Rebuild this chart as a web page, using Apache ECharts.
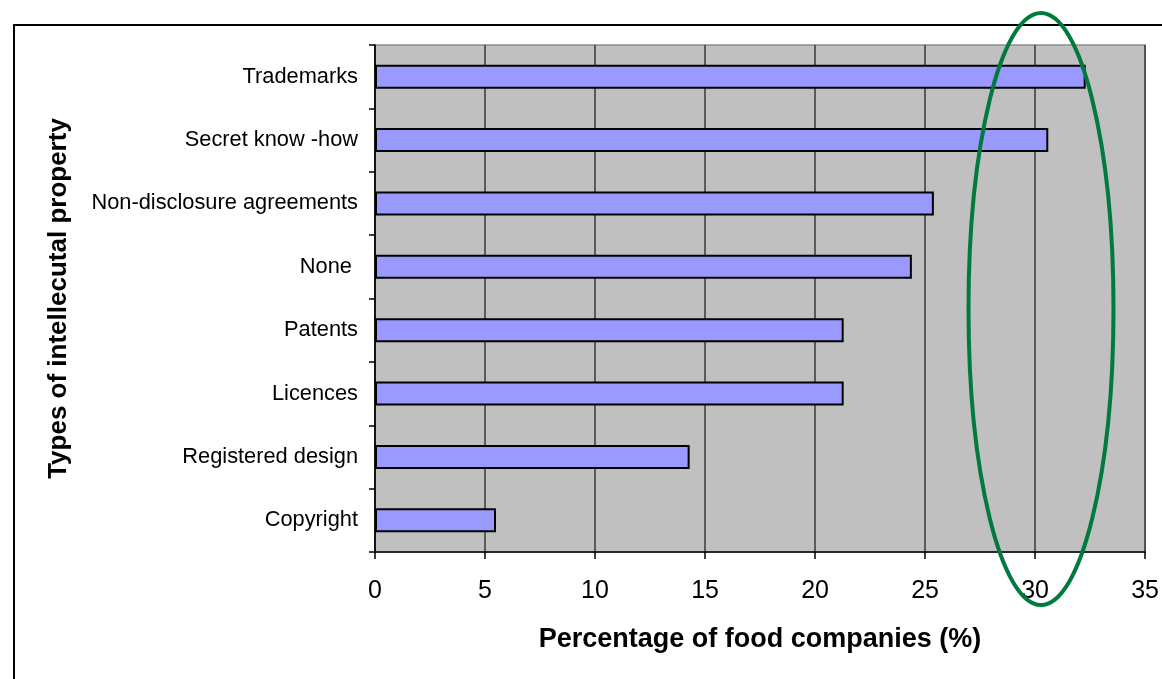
<!DOCTYPE html>
<html>
<head>
<meta charset="utf-8">
<script src="https://cdn.jsdelivr.net/npm/echarts@6/dist/echarts.min.js"></script>
<style>
html,body{margin:0;padding:0;background:#fff;}
#chart{width:1162px;height:679px;}
</style>
</head>
<body>
<div id="chart"></div>
<script>
// Categories listed top to bottom as in the reference
var categories = ["Trademarks", "Secret know -how", "Non-disclosure agreements", "None ", "Patents", "Licences", "Registered design", "Copyright"];
var values = [32.3, 30.6, 25.4, 24.4, 21.3, 21.3, 14.3, 5.5];
var xTicks = [0, 5, 10, 15, 20, 25, 30, 35];
var xTitle = "Percentage of food companies (%)";
var yTitle = "Types of intellecutal property";

var chart = echarts.init(document.getElementById('chart'), null, {renderer: 'canvas'});
var font = '"Liberation Sans", Arial, sans-serif';
var option = {
  animation: false,
  backgroundColor: '#ffffff',
  grid: {left: 375, right: 16, top: 45, bottom: 127, show: true, backgroundColor: '#c0c0c0', borderColor: '#8c8c8c', borderWidth: 1.5},
  xAxis: {
    type: 'value', min: xTicks[0], max: xTicks[xTicks.length - 1], interval: 5,
    axisLine: {show: true, onZero: false, lineStyle: {color: '#000', width: 1.5}},
    axisTick: {show: true, length: 7, lineStyle: {color: '#000', width: 1.5}},
    axisLabel: {fontFamily: font, fontSize: 25, color: '#000', margin: 27},
    splitLine: {show: true, lineStyle: {color: '#3a3a3a', width: 1.5}},
    name: xTitle, nameLocation: 'middle', nameGap: 74,
    nameTextStyle: {fontFamily: font, fontSize: 27, fontWeight: 'bold', color: '#000'}
  },
  yAxis: {
    type: 'category', data: categories, inverse: true,
    axisLine: {show: true, lineStyle: {color: '#000', width: 1.5}},
    axisTick: {show: true, length: 6, inside: false, lineStyle: {color: '#000', width: 1.5}},
    axisLabel: {fontFamily: font, fontSize: 21.8, color: '#000', margin: 17},
    splitLine: {show: false},
    name: yTitle, nameLocation: 'middle', nameGap: 303, nameRotate: 90,
    nameTextStyle: {fontFamily: font, fontSize: 26, fontWeight: 'bold', color: '#000'}
  },
  series: [{
    type: 'bar', data: values, barWidth: '38%',
    itemStyle: {color: '#9999ff', borderColor: '#000', borderWidth: 2},
    silent: true
  }],
  graphic: [
    {type: 'rect', shape: {x: 14, y: 25, width: 1300, height: 800}, style: {fill: null, stroke: '#000', lineWidth: 2}, z: 100, silent: true},
    {type: 'ellipse', shape: {cx: 1041, cy: 309, rx: 72.5, ry: 296}, style: {fill: null, stroke: '#007a3d', lineWidth: 4}, z: 100, silent: true}
  ]
};
chart.setOption(option);
</script>
</body>
</html>
